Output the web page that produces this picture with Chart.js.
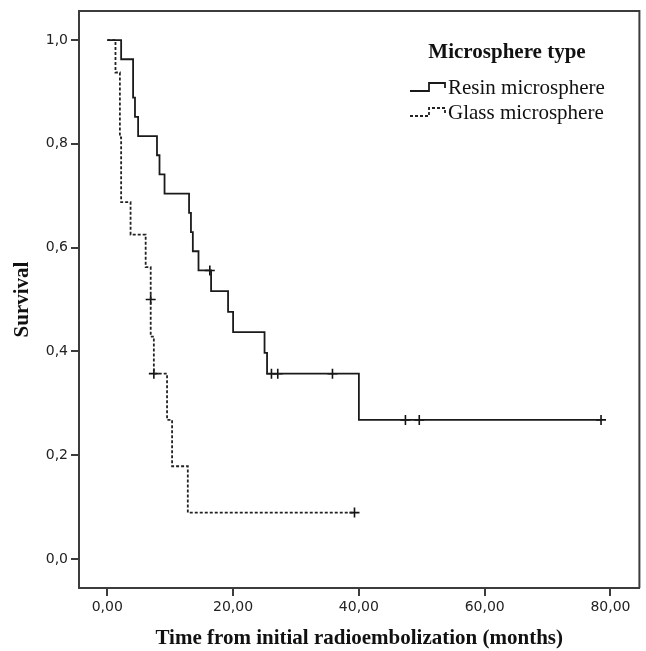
<!DOCTYPE html>
<html>
<head>
<meta charset="utf-8">
<script src="https://cdn.jsdelivr.net/npm/chart.js@4/dist/chart.umd.min.js"></script>
<style>
  html, body { margin: 0; padding: 0; background: #ffffff; }
  #wrap { width: 646px; height: 651px; }
</style>
</head>
<body>
<div id="wrap"><canvas id="c" width="646" height="651"></canvas></div>
<script>
// ---- Data (Kaplan-Meier curves) ----
const seriesNames = ['Resin microsphere', 'Glass microsphere'];
const legendTitle = 'Microsphere type';

// Resin microsphere: event times (months) and survival after each step
const resinTimes = [0, 2.2, 4.1, 4.1, 4.4, 4.9, 7.9, 8.3, 9.1, 13.0, 13.3, 13.6, 14.5, 16.5, 19.2, 20.0, 25.0, 25.4, 40.0, 78.5];
const resinSurv  = [1.0, 0.963, 0.926, 0.889, 0.852, 0.815, 0.778, 0.741, 0.704, 0.667, 0.630, 0.593, 0.556, 0.516, 0.476, 0.437, 0.397, 0.357, 0.268, 0.268];
const resinCensorTimes = [16.3, 26.1, 27.1, 35.8, 47.4, 49.6, 78.5];
const resinCensorSurv  = [0.556, 0.357, 0.357, 0.357, 0.268, 0.268, 0.268];

// Glass microsphere
const glassTimes = [0, 1.3, 2.0, 2.2, 3.7, 6.1, 6.9, 6.9, 7.4, 9.5, 10.3, 12.8, 39.3];
const glassSurv  = [1.0, 0.9375, 0.8125, 0.6875, 0.625, 0.5625, 0.5, 0.4286, 0.3571, 0.2679, 0.1786, 0.0893, 0.0893];
const glassCensorTimes = [6.9, 7.4, 39.3];
const glassCensorSurv  = [0.5, 0.3571, 0.0893];

// Axis ticks
const xTickValues = [0, 20, 40, 60, 80];
const xTickLabels = ['0,00', '20,00', '40,00', '60,00', '80,00'];
const yTickValues = [0, 0.2, 0.4, 0.6, 0.8, 1.0];
const yTickLabels = ['0,0', '0,2', '0,4', '0,6', '0,8', '1,0'];
const xTitle = 'Time from initial radioembolization (months)';
const yTitle = 'Survival';

// ---- Build chart ----
const toPts = (xs, ys) => xs.map((x, i) => ({ x: x, y: ys[i] }));
const frameColor = '#3c3c3c';
const serif = '"Liberation Serif", "Times New Roman", serif';

const framePlugin = {
  id: 'frame',
  afterDraw(chart) {
    const { ctx, chartArea: a } = chart;
    ctx.save();
    ctx.strokeStyle = frameColor;
    ctx.lineWidth = 2;
    ctx.beginPath();
    ctx.moveTo(a.left, a.top);
    ctx.lineTo(a.right, a.top);
    ctx.lineTo(a.right, a.bottom);
    ctx.stroke();
    ctx.restore();
  }
};

const legendPlugin = {
  id: 'kmLegend',
  afterDraw(chart) {
    const { ctx } = chart;
    ctx.save();
    ctx.fillStyle = '#111';
    ctx.textBaseline = 'middle';
    ctx.font = 'bold 21px ' + serif;
    ctx.textAlign = 'center';
    ctx.fillText(legendTitle, 507, 53);
    ctx.font = '21px ' + serif;
    ctx.textAlign = 'left';
    const items = [
      { y: 88, dash: [], width: 1.8, color: '#1a1a1a' },
      { y: 113, dash: [3, 2], width: 1.8, color: '#222' }
    ];
    items.forEach((it, i) => {
      ctx.save();
      ctx.strokeStyle = it.color;
      ctx.lineWidth = it.width;
      ctx.setLineDash(it.dash);
      ctx.beginPath();
      ctx.moveTo(410, it.y + 3);
      ctx.lineTo(429, it.y + 3);
      ctx.lineTo(429, it.y - 5);
      ctx.lineTo(445, it.y - 5);
      ctx.lineTo(445, it.y);
      ctx.stroke();
      ctx.restore();
      ctx.fillText(seriesNames[i], 448, it.y);
    });
    ctx.restore();
  }
};

new Chart(document.getElementById('c'), {
  type: 'line',
  data: {
    datasets: [
      {
        label: seriesNames[0],
        data: toPts(resinTimes, resinSurv),
        stepped: 'before',
        borderColor: '#1a1a1a',
        borderWidth: 1.8,
        pointRadius: 0,
        fill: false
      },
      {
        label: seriesNames[1],
        data: toPts(glassTimes, glassSurv),
        stepped: 'before',
        borderColor: '#222222',
        borderWidth: 1.8,
        borderDash: [3, 2],
        pointRadius: 0,
        fill: false
      },
      {
        type: 'scatter',
        label: 'Resin censored',
        data: toPts(resinCensorTimes, resinCensorSurv),
        pointStyle: 'cross',
        pointRadius: 5,
        borderColor: '#111',
        borderWidth: 1.6,
        showLine: false
      },
      {
        type: 'scatter',
        label: 'Glass censored',
        data: toPts(glassCensorTimes, glassCensorSurv),
        pointStyle: 'cross',
        pointRadius: 5,
        borderColor: '#111',
        borderWidth: 1.6,
        showLine: false
      }
    ]
  },
  options: {
    responsive: false,
    animation: false,
    events: [],
    layout: { padding: { top: 11, right: 1, bottom: 0, left: 0 } },
    plugins: {
      legend: { display: false },
      tooltip: { enabled: false }
    },
    scales: {
      x: {
        type: 'linear',
        min: -4.5,
        max: 84.6,
        afterBuildTicks: (s) => { s.ticks = xTickValues.map(v => ({ value: v })); },
        afterFit: (s) => { s.height = 63; s.paddingLeft = 0; s.paddingRight = 0; },
        grid: { drawOnChartArea: false, drawTicks: true, tickLength: 8, color: frameColor, tickColor: frameColor, lineWidth: 2 },
        border: { display: true, color: frameColor, width: 2 },
        ticks: {
          autoSkip: false, maxRotation: 0, padding: 3, color: '#222',
          font: { family: '"DejaVu Sans", sans-serif', size: 14 },
          callback: (v) => xTickLabels[xTickValues.indexOf(v)]
        },
        title: {
          display: true, text: xTitle, color: '#111',
          font: { family: serif, size: 21, weight: 'bold' },
          padding: { top: 0, bottom: 0 }
        }
      },
      y: {
        type: 'linear',
        min: -0.056,
        max: 1.056,
        afterBuildTicks: (s) => { s.ticks = yTickValues.map(v => ({ value: v })); },
        afterFit: (s) => { s.width = 79; s.paddingTop = 0; s.paddingBottom = 0; },
        grid: { drawOnChartArea: false, drawTicks: true, tickLength: 8, color: frameColor, tickColor: frameColor, lineWidth: 2 },
        border: { display: true, color: frameColor, width: 2 },
        ticks: {
          autoSkip: false, padding: 3, color: '#222',
          font: { family: '"DejaVu Sans", sans-serif', size: 14 },
          callback: (v) => yTickLabels[yTickValues.findIndex(t => Math.abs(t - v) < 1e-9)]
        },
        title: {
          display: true, text: yTitle, color: '#111',
          font: { family: serif, size: 21, weight: 'bold' },
          padding: { top: 10, bottom: 0 }
        }
      }
    }
  },
  plugins: [framePlugin, legendPlugin]
});
</script>
</body>
</html>
